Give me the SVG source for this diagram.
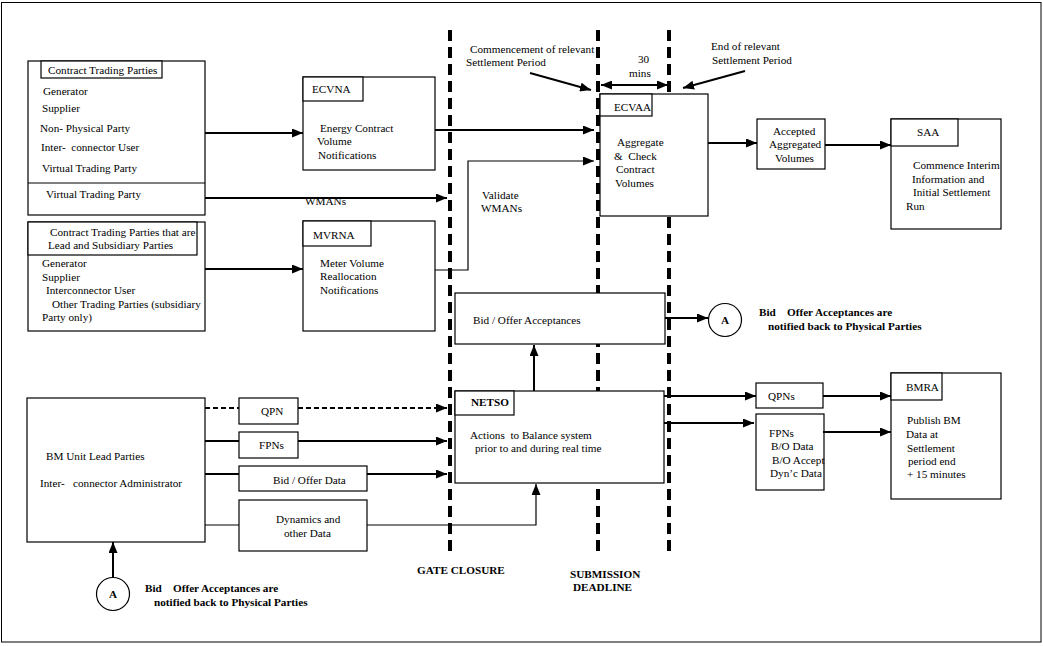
<svg xmlns="http://www.w3.org/2000/svg" width="1043" height="646" viewBox="0 0 1043 646" font-family="'Liberation Serif', 'Times New Roman', serif">
<defs>
<style>
text{font-family:'Liberation Serif','Times New Roman',serif;font-size:11.2px;fill:#000}
.b{font-weight:bold}
.box{fill:#fff;stroke:#000;stroke-width:1.2}
.ln{fill:none;stroke:#000;stroke-width:2}
.thin{fill:none;stroke:#000;stroke-width:1.2}
.dash{fill:none;stroke:#000;stroke-width:4;stroke-dasharray:11 6}
</style>
<marker id="ah" markerUnits="userSpaceOnUse" markerWidth="11" markerHeight="9" refX="11" refY="4.5" orient="auto-start-reverse">
<path d="M0,0 L11,4.5 L0,9 z" fill="#000"/>
</marker>
</defs>
<rect x="0" y="0" width="1043" height="646" fill="#fff"/>
<rect x="1.5" y="2.5" width="1039.5" height="639.5" fill="none" stroke="#000" stroke-width="1"/>

<g id="timelines">
<line class="dash" x1="450" y1="30" x2="450" y2="556"/>
<line class="dash" x1="598" y1="30" x2="598" y2="556"/>
<line class="dash" x1="669" y1="30" x2="669" y2="556"/>
<text class="b" x="417" y="574">GATE CLOSURE</text>
<text class="b" x="570" y="578">SUBMISSION</text>
<text class="b" x="573" y="591">DEADLINE</text>
<text x="470" y="53">Commencement of relevant</text>
<text x="466" y="66">Settlement Period</text>
<text x="638" y="63">30</text>
<text x="629" y="77">mins</text>
<text x="711" y="50">End of relevant</text>
<text x="712" y="64">Settlement Period</text>
</g>

<g id="ctp">
<rect class="box" x="28" y="61" width="177" height="154"/>
<rect class="box" x="41" y="61" width="121" height="17"/>
<line class="thin" x1="28" y1="183" x2="205" y2="183"/>
<text x="48" y="74">Contract Trading Parties</text>
<text x="43" y="95">Generator</text>
<text x="42" y="112">Supplier</text>
<text x="40" y="132">Non- Physical Party</text>
<text x="41" y="151" xml:space="preserve">Inter-  connector User</text>
<text x="42" y="172">Virtual Trading Party</text>
<text x="46" y="198">Virtual Trading Party</text>
</g>

<g id="ctp2">
<rect class="box" x="28" y="222" width="177" height="109"/>
<rect class="box" x="28" y="222" width="169" height="33"/>
<text x="50" y="236">Contract Trading Parties that are</text>
<text x="48" y="249">Lead and Subsidiary Parties</text>
<text x="42" y="267">Generator</text>
<text x="42" y="281">Supplier</text>
<text x="46" y="294">Interconnector User</text>
<text x="52" y="308">Other Trading Parties (subsidiary</text>
<text x="42" y="321">Party only)</text>
</g>

<g id="ecvna">
<rect class="box" x="303" y="77" width="132" height="93"/>
<rect class="box" x="303" y="77" width="60" height="24"/>
<text x="312" y="93">ECVNA</text>
<text x="320" y="132">Energy Contract</text>
<text x="317" y="145">Volume</text>
<text x="318" y="159">Notifications</text>
</g>

<g id="mvrna">
<rect class="box" x="303" y="221" width="132" height="110"/>
<rect class="box" x="303" y="221" width="68" height="25"/>
<text x="313" y="239">MVRNA</text>
<text x="320" y="267">Meter Volume</text>
<text x="320" y="280">Reallocation</text>
<text x="320" y="294">Notifications</text>
</g>

<g id="ecvaa">
<rect class="box" x="600" y="94" width="108" height="122"/>
<rect class="box" x="600" y="94" width="52" height="22"/>
<text x="614" y="111">ECVAA</text>
<text x="617" y="146">Aggregate</text>
<text x="614" y="160" xml:space="preserve">&amp;  Check</text>
<text x="616" y="173">Contract</text>
<text x="615" y="187">Volumes</text>
</g>

<g id="aav">
<rect class="box" x="757" y="119" width="68" height="50"/>
<text x="773" y="135">Accepted</text>
<text x="769" y="148">Aggregated</text>
<text x="775" y="162">Volumes</text>
</g>

<g id="saa">
<rect class="box" x="891" y="119" width="110" height="110"/>
<rect class="box" x="891" y="119" width="67" height="27"/>
<text x="917" y="136">SAA</text>
<text x="913" y="169">Commence Interim</text>
<text x="912" y="183">Information and</text>
<text x="913" y="196">Initial Settlement</text>
<text x="906" y="210">Run</text>
</g>

<g id="boa">
<rect class="box" x="455" y="293" width="210" height="51"/>
<text x="473" y="324">Bid / Offer Acceptances</text>
</g>

<g id="a1">
<circle cx="725" cy="320" r="16.5" fill="#fff" stroke="#000" stroke-width="1.2"/>
<text class="b" x="725" y="324" text-anchor="middle">A</text>
<text class="b" x="759" y="316" xml:space="preserve">Bid    Offer Acceptances are</text>
<text class="b" x="768" y="330">notified back to Physical Parties</text>
</g>

<g id="netso">
<rect class="box" x="455" y="391" width="209" height="92"/>
<rect class="box" x="455" y="391" width="59" height="24"/>
<text class="b" x="471" y="406">NETSO</text>
<text x="470" y="439" xml:space="preserve">Actions  to Balance system</text>
<text x="475" y="452">prior to and during real time</text>
</g>

<g id="bmu">
<rect class="box" x="27" y="398" width="178" height="144"/>
<text x="46" y="460">BM Unit Lead Parties</text>
<text x="40" y="487" xml:space="preserve">Inter-   connector Administrator</text>
</g>

<g id="qpn">
<rect class="box" x="239" y="398" width="59" height="26"/>
<text x="261" y="415">QPN</text>
</g>
<g id="fpns">
<rect class="box" x="239" y="432" width="59" height="26"/>
<text x="259" y="449">FPNs</text>
</g>
<g id="bod">
<rect class="box" x="239" y="466" width="128" height="25"/>
<text x="273" y="484">Bid / Offer Data</text>
</g>
<g id="dyn">
<rect class="box" x="239" y="500" width="128" height="51"/>
<text x="276" y="523">Dynamics and</text>
<text x="284" y="537">other Data</text>
</g>

<g id="a2">
<circle cx="113" cy="594" r="16.5" fill="#fff" stroke="#000" stroke-width="1.2"/>
<text class="b" x="113" y="598" text-anchor="middle">A</text>
<text class="b" x="145" y="592" xml:space="preserve">Bid    Offer Acceptances are</text>
<text class="b" x="154" y="606">notified back to Physical Parties</text>
</g>

<g id="qpns">
<rect class="box" x="756" y="383" width="67" height="25"/>
<text x="768" y="400">QPNs</text>
</g>
<g id="fpns2">
<rect class="box" x="756" y="414" width="68" height="76"/>
<text x="769" y="437">FPNs</text>
<text x="771" y="450">B/O Data</text>
<text x="772" y="464">B/O Accept</text>
<text x="770" y="477">Dyn’c Data</text>
</g>

<g id="bmra">
<rect class="box" x="891" y="373" width="110" height="126"/>
<rect class="box" x="891" y="373" width="51" height="27"/>
<text x="906" y="391">BMRA</text>
<text x="907" y="424">Publish BM</text>
<text x="906" y="438">Data at</text>
<text x="907" y="452">Settlement</text>
<text x="908" y="465">period end</text>
<text x="907" y="478">+ 15 minutes</text>
</g>

<g id="connectors">
<line class="ln" x1="205" y1="133" x2="303" y2="133" marker-end="url(#ah)"/>
<line class="ln" x1="205" y1="198" x2="447" y2="198" marker-end="url(#ah)"/>
<text x="305" y="205">WMANs</text>
<line class="ln" x1="205" y1="269" x2="303" y2="269" marker-end="url(#ah)"/>
<line class="ln" x1="435" y1="130" x2="594" y2="130" marker-end="url(#ah)"/>
<polyline class="thin" points="435,270 468,270 468,161 594,161" marker-end="url(#ah)"/>
<text x="482" y="199">Validate</text>
<text x="481" y="212">WMANs</text>
<line class="ln" x1="708" y1="143" x2="757" y2="143" marker-end="url(#ah)"/>
<line class="ln" x1="825" y1="145" x2="891" y2="145" marker-end="url(#ah)"/>
<line class="ln" x1="530" y1="73" x2="591" y2="90" marker-end="url(#ah)"/>
<line class="ln" x1="601" y1="85" x2="668" y2="85" marker-start="url(#ah)" marker-end="url(#ah)"/>
<line class="ln" x1="745" y1="71" x2="683" y2="88" marker-end="url(#ah)"/>
<line class="ln" x1="665" y1="318" x2="708" y2="318" marker-end="url(#ah)"/>
<line class="ln" x1="534" y1="391" x2="534" y2="345" marker-end="url(#ah)"/>
<polyline class="thin" points="367,525 536,525 536,484" marker-end="url(#ah)"/>
<line class="thin" x1="205" y1="525" x2="239" y2="525"/>
<line class="ln" x1="205" y1="408" x2="239" y2="408" stroke-dasharray="5 3"/>
<line class="ln" x1="298" y1="408" x2="447" y2="408" stroke-dasharray="5 3" marker-end="url(#ah)"/>
<line class="ln" x1="205" y1="441" x2="239" y2="441"/>
<line class="ln" x1="298" y1="441" x2="447" y2="441" marker-end="url(#ah)"/>
<line class="ln" x1="205" y1="474" x2="239" y2="474"/>
<line class="ln" x1="367" y1="474" x2="447" y2="474" marker-end="url(#ah)"/>
<line class="ln" x1="113" y1="577" x2="113" y2="542" marker-end="url(#ah)"/>
<line class="ln" x1="664" y1="396" x2="756" y2="396" marker-end="url(#ah)"/>
<line class="ln" x1="664" y1="423" x2="754" y2="423" marker-end="url(#ah)"/>
<line class="ln" x1="823" y1="396" x2="891" y2="396" marker-end="url(#ah)"/>
<line class="ln" x1="823" y1="432" x2="891" y2="432" marker-end="url(#ah)"/>
</g>
</svg>
